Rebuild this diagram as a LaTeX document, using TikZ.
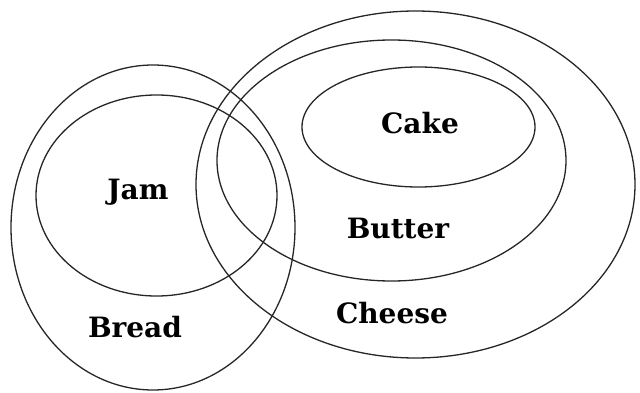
\documentclass[tikz,border=0pt]{standalone}
\usepackage{fontspec}
\setmainfont{DejaVu Serif}
\usetikzlibrary{shapes.geometric}
\tikzset{
  setring/.style={draw=black!85, line width=1.3pt, ellipse, inner sep=0pt, outer sep=0pt},
  setlabel/.style={font=\bfseries\fontsize{28}{28}\selectfont, inner sep=0pt, text=black}
}
\begin{document}
\begin{tikzpicture}[x=1pt,y=-1pt]
\useasboundingbox (0,0) rectangle (640,393);
\node[setring, minimum width=284, minimum height=325] (bread) at (153,227.5) {};
\node[setring, minimum width=241, minimum height=201] (jam) at (156.5,195.5) {};
\node[setring, minimum width=439, minimum height=347] (cheese) at (415.5,184.5) {};
\node[setring, minimum width=349, minimum height=241] (butter) at (391.5,160.5) {};
\node[setring, minimum width=233, minimum height=120] (cake) at (418.5,127) {};
\node[setlabel] (ljam) at (138,192) {Jam};
\node[setlabel] (lbread) at (135,327) {Bread};
\node[setlabel] (lcake) at (420,123) {Cake};
\node[setlabel] (lbutter) at (398,228) {Butter};
\node[setlabel] (lcheese) at (392,313) {Cheese};
\end{tikzpicture}
\end{document}
